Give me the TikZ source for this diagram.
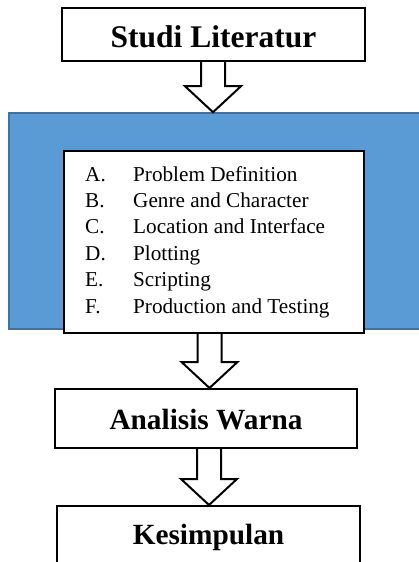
\documentclass[tikz,border=0pt]{standalone}
\usepackage{fontspec}
\setmainfont{Liberation Serif}
\usetikzlibrary{calc}
\definecolor{bluefill}{HTML}{5B9BD5}
\definecolor{blueline}{HTML}{41719C}
\tikzset{
  box/.style={draw=black, line width=2pt, fill=white, inner sep=0pt, font=\bfseries},
  bluepanel/.style={draw=blueline, line width=1.6pt, fill=bluefill, inner sep=0pt},
  blockarrow/.style={draw=black, line width=2pt, fill=white, line join=miter},
  listtext/.style={inner sep=0pt, anchor=base west, align=left}
}
\newcommand\blkarrow[3]{%
  \coordinate (#1-s) at (#3,0 |- #1.south);
  \coordinate (#2-n) at (#3,0 |- #2.north);
  \filldraw[blockarrow] ($(#1-s)+(-12,0)$) -- ($(#2-n)+(-12,-26)$) -- ++(-16,0)
    -- (#2-n) -- ++(28,-26) -- ++(-16,0) -- ($(#1-s)+(12,0)$);
}
\begin{document}
\begin{tikzpicture}[x=1pt,y=-1pt]
\useasboundingbox (0,0) rectangle (418,562);
% blue panel
\node[bluepanel, minimum width=416, minimum height=216] (phase) at (217,221) {};
% white list box
\node[box, minimum width=300, minimum height=182] (steps) at (214,242) {};
\node[listtext] (list) at (85,181) {\fontsize{21.2}{26.4}\selectfont
  \begin{tabular}[t]{@{}p{48pt}@{}l@{}}
  A. & Problem Definition\\
  B. & Genre and Character\\
  C. & Location and Interface\\
  D. & Plotting\\
  E. & Scripting\\
  F. & Production and Testing
  \end{tabular}};
% title boxes
\node[box, minimum width=303, minimum height=53, text height=25, text depth=0,
      font=\bfseries\fontsize{31.5}{36}\selectfont] (studi) at (213.5,34.5) {Studi Literatur};
\node[box, minimum width=302, minimum height=59, text height=21, text depth=0,
      font=\bfseries\fontsize{29.3}{34}\selectfont] (analisis) at (206,418.5) {Analisis Warna};
\node[box, minimum width=303, minimum height=70, text height=18, text depth=12,
      font=\bfseries\fontsize{29.3}{34}\selectfont] (kesimpulan) at (208.5,541) {Kesimpulan};
% block arrows
\blkarrow{studi}{phase}{213}
\blkarrow{steps}{analisis}{209.5}
\blkarrow{analisis}{kesimpulan}{209}
\end{tikzpicture}
\end{document}
